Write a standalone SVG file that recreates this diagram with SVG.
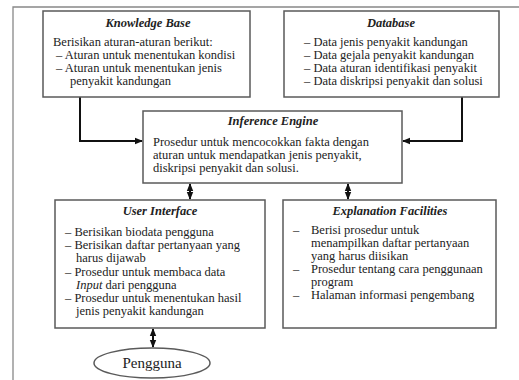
<svg xmlns="http://www.w3.org/2000/svg" width="519" height="380" viewBox="0 0 519 380">
<style>
.box{fill:#fff;stroke:#5a5a5a;stroke-width:1.5}
.frame{fill:none;stroke:#888;stroke-width:1.3}
.t{font-family:"Liberation Serif","Times New Roman",serif;font-size:12.5px;fill:#222}
.h{font-family:"Liberation Serif","Times New Roman",serif;font-size:12.5px;font-weight:bold;font-style:italic;fill:#222;text-anchor:middle}
.c{fill:none;stroke:#111;stroke-width:2}
</style>
<defs>
<marker id="ah" markerUnits="userSpaceOnUse" markerWidth="8" markerHeight="8" viewBox="0 0 8 8" refX="7" refY="4" orient="auto-start-reverse">
<path d="M0,0.8 L8,4 L0,7.2 Z" fill="#111"/>
</marker>
</defs>
<path class="frame" d="M13,380 V7 H519"/>
<g id="connectors">
<path class="c" d="M80,97 V141 H142" marker-end="url(#ah)"/>
<path class="c" d="M462,97 V141 H403" marker-end="url(#ah)"/>
<path class="c" d="M190,184 V199" marker-start="url(#ah)" marker-end="url(#ah)"/>
<path class="c" d="M348,184 V199" marker-start="url(#ah)" marker-end="url(#ah)"/>
<path class="c" d="M153,329 V347" marker-start="url(#ah)" marker-end="url(#ah)"/>
</g>
<g id="knowledge-base">
<rect class="box" x="43" y="11" width="207" height="86"/>
<text class="h" x="148" y="27">Knowledge Base</text>
<text class="t" x="53" y="46">Berisikan aturan-aturan berikut:</text>
<text class="t" x="56" y="59">– Aturan untuk menentukan kondisi</text>
<text class="t" x="56" y="72">– Aturan untuk menentukan jenis</text>
<text class="t" x="70" y="85">penyakit kandungan</text>
</g>
<g id="database">
<rect class="box" x="284" y="11" width="215" height="86"/>
<text class="h" x="391" y="27">Database</text>
<text class="t" x="304" y="46">– Data jenis penyakit kandungan</text>
<text class="t" x="304" y="59">– Data gejala penyakit kandungan</text>
<text class="t" x="304" y="72">– Data aturan identifikasi penyakit</text>
<text class="t" x="304" y="85">– Data diskripsi penyakit dan solusi</text>
</g>
<g id="inference-engine">
<rect class="box" x="143" y="111" width="259" height="72"/>
<text class="h" x="273" y="125">Inference Engine</text>
<text class="t" x="153" y="146">Prosedur untuk mencocokkan fakta dengan</text>
<text class="t" x="153" y="159">aturan untuk mendapatkan jenis penyakit,</text>
<text class="t" x="153" y="172">diskripsi penyakit dan solusi.</text>
</g>
<g id="user-interface">
<rect class="box" x="55" y="200" width="210" height="128"/>
<text class="h" x="160" y="215">User Interface</text>
<text class="t" x="65" y="236">– Berisikan biodata pengguna</text>
<text class="t" x="65" y="249">– Berisikan daftar pertanyaan yang</text>
<text class="t" x="76" y="262">harus dijawab</text>
<text class="t" x="65" y="276">– Prosedur untuk membaca data</text>
<text class="t" x="76" y="289"><tspan font-style="italic">Input</tspan> dari pengguna</text>
<text class="t" x="65" y="302">– Prosedur untuk menentukan hasil</text>
<text class="t" x="76" y="315">jenis penyakit kandungan</text>
</g>
<g id="explanation-facilities">
<rect class="box" x="283" y="200" width="213" height="128"/>
<text class="h" x="390" y="215">Explanation Facilities</text>
<text class="t" x="293" y="234">–</text>
<text class="t" x="311" y="234">Berisi prosedur untuk</text>
<text class="t" x="311" y="247">menampilkan daftar pertanyaan</text>
<text class="t" x="311" y="260">yang harus diisikan</text>
<text class="t" x="293" y="273">–</text>
<text class="t" x="311" y="273">Prosedur tentang cara penggunaan</text>
<text class="t" x="311" y="286">program</text>
<text class="t" x="293" y="299">–</text>
<text class="t" x="311" y="299">Halaman informasi pengembang</text>
</g>
<g id="pengguna">
<ellipse class="box" cx="152" cy="363" rx="58" ry="15"/>
<text class="t" x="152" y="368" text-anchor="middle" style="font-size:15px">Pengguna</text>
</g>
</svg>
